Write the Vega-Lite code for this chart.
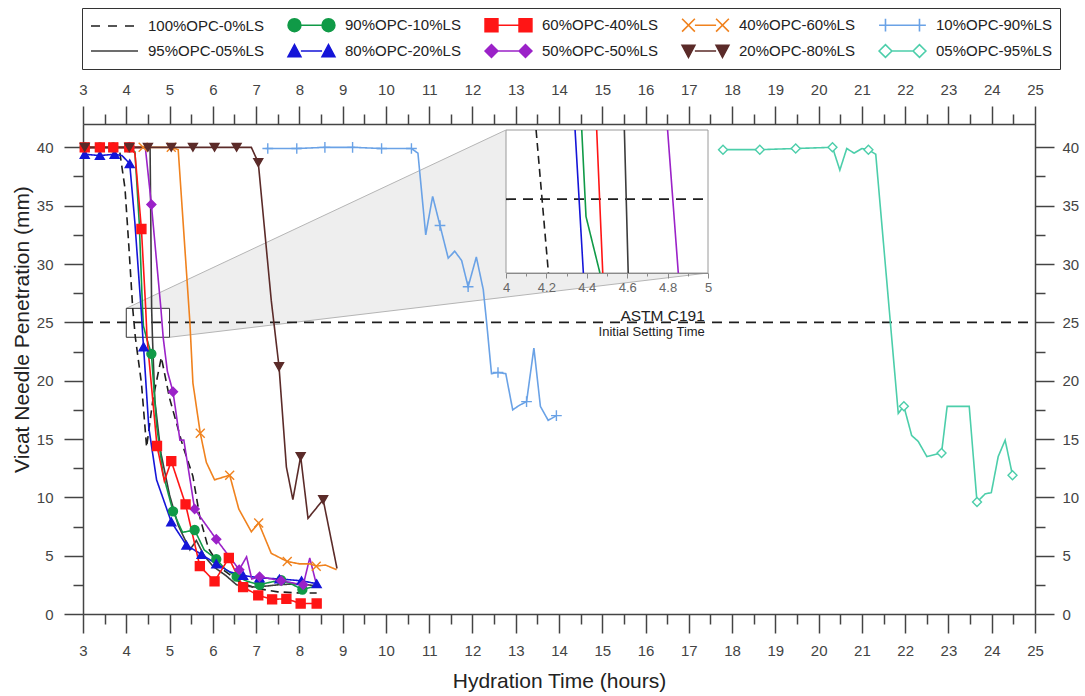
{
  "$schema": "https://vega.github.io/schema/vega-lite/v6.json",
  "width": 952,
  "height": 490,
  "autosize": {"type": "none"},
  "padding": {"left": 83, "top": 124, "right": 50, "bottom": 82},
  "background": "white",
  "config": {
    "view": {"stroke": null},
    "axis": {"grid": false, "domainColor": "#444", "domainWidth": 1.5, "tickColor": "#444", "tickWidth": 1.5, "labelColor": "#444", "labelFont": "Liberation Sans", "labelFontSize": 15, "titleFont": "Liberation Sans", "titleFontWeight": "normal", "titleColor": "#222", "titleFontSize": 21, "labelFlush": false, "labelOverlap": false},
    "text": {"font": "Liberation Sans"}
  },
  "datasets": {
    "cone": [{"x": 4.0, "y": 26.2, "y2": 26.2}, {"x": 5.0, "y": 27.94, "y2": 26.2}, {"x": 5.01, "y": 27.96, "y2": 23.72}, {"x": 12.77, "y": 41.48, "y2": 27.16}, {"x": 17.44, "y": 41.48, "y2": 29.23}],
    "coneEdges": [{"x": 4.0, "y": 26.2, "x2": 12.77, "y2": 41.48}, {"x": 5.0, "y": 23.72, "x2": 17.44, "y2": 29.23}],
    "zoomBox": [{"x": 4.0, "y": 23.72, "x2": 5.0, "y2": 26.2}],
    "refLine": [{"x": 3, "x2": 25, "y": 25}],
    "notes": [{"label": "ASTM C191", "x": 17.37, "y": 25.12, "size": "big"}, {"label": "Initial Setting Time", "x": 17.37, "y": 23.83, "size": "small"}],
    "legendKeys": [{"series": "100%OPC-0%LS"}, {"series": "90%OPC-10%LS"}, {"series": "60%OPC-40%LS"}, {"series": "40%OPC-60%LS"}, {"series": "10%OPC-90%LS"}, {"series": "95%OPC-05%LS"}, {"series": "80%OPC-20%LS"}, {"series": "50%OPC-50%LS"}, {"series": "20%OPC-80%LS"}, {"series": "05%OPC-95%LS"}],
    "curves": [
      {"series": "100%OPC-0%LS", "x": 3.0, "y": 40}, {"series": "100%OPC-0%LS", "x": 3.4, "y": 40}, {"series": "100%OPC-0%LS", "x": 3.7, "y": 40}, {"series": "100%OPC-0%LS", "x": 3.85, "y": 39.6}, {"series": "100%OPC-0%LS", "x": 3.97, "y": 36.5}, {"series": "100%OPC-0%LS", "x": 4.06, "y": 31.5}, {"series": "100%OPC-0%LS", "x": 4.149, "y": 26.2}, {"series": "100%OPC-0%LS", "x": 4.21, "y": 23.7}, {"series": "100%OPC-0%LS", "x": 4.35, "y": 19.8}, {"series": "100%OPC-0%LS", "x": 4.47, "y": 14.3}, {"series": "100%OPC-0%LS", "x": 4.62, "y": 18.5}, {"series": "100%OPC-0%LS", "x": 4.81, "y": 22.0}, {"series": "100%OPC-0%LS", "x": 5.0, "y": 18.5}, {"series": "100%OPC-0%LS", "x": 5.3, "y": 14.5}, {"series": "100%OPC-0%LS", "x": 5.54, "y": 11.8}, {"series": "100%OPC-0%LS", "x": 5.7, "y": 8.3}, {"series": "100%OPC-0%LS", "x": 5.9, "y": 5.6}, {"series": "100%OPC-0%LS", "x": 6.2, "y": 3.9}, {"series": "100%OPC-0%LS", "x": 6.6, "y": 2.8}, {"series": "100%OPC-0%LS", "x": 7.0, "y": 2.2}, {"series": "100%OPC-0%LS", "x": 7.5, "y": 1.9}, {"series": "100%OPC-0%LS", "x": 8.0, "y": 1.8}, {"series": "100%OPC-0%LS", "x": 8.4, "y": 1.8},
      {"series": "95%OPC-05%LS", "x": 3.0, "y": 40}, {"series": "95%OPC-05%LS", "x": 3.4, "y": 40}, {"series": "95%OPC-05%LS", "x": 3.7, "y": 40}, {"series": "95%OPC-05%LS", "x": 4.05, "y": 40}, {"series": "95%OPC-05%LS", "x": 4.55, "y": 40}, {"series": "95%OPC-05%LS", "x": 4.586, "y": 26.2}, {"series": "95%OPC-05%LS", "x": 4.605, "y": 23.7}, {"series": "95%OPC-05%LS", "x": 4.66, "y": 18.3}, {"series": "95%OPC-05%LS", "x": 4.8, "y": 13.8}, {"series": "95%OPC-05%LS", "x": 5.0, "y": 10.2}, {"series": "95%OPC-05%LS", "x": 5.2, "y": 7.6}, {"series": "95%OPC-05%LS", "x": 5.47, "y": 5.5}, {"series": "95%OPC-05%LS", "x": 5.62, "y": 6.3}, {"series": "95%OPC-05%LS", "x": 5.8, "y": 5.0}, {"series": "95%OPC-05%LS", "x": 6.0, "y": 4.1}, {"series": "95%OPC-05%LS", "x": 6.3, "y": 3.3}, {"series": "95%OPC-05%LS", "x": 6.55, "y": 2.5}, {"series": "95%OPC-05%LS", "x": 7.0, "y": 2.3}, {"series": "95%OPC-05%LS", "x": 7.5, "y": 2.5}, {"series": "95%OPC-05%LS", "x": 8.0, "y": 2.6}, {"series": "95%OPC-05%LS", "x": 8.4, "y": 2.4},
      {"series": "90%OPC-10%LS", "x": 3.04, "y": 40}, {"series": "90%OPC-10%LS", "x": 3.39, "y": 40}, {"series": "90%OPC-10%LS", "x": 3.7, "y": 40}, {"series": "90%OPC-10%LS", "x": 4.07, "y": 40}, {"series": "90%OPC-10%LS", "x": 4.2, "y": 39.6}, {"series": "90%OPC-10%LS", "x": 4.3, "y": 33.5}, {"series": "90%OPC-10%LS", "x": 4.375, "y": 26.2}, {"series": "90%OPC-10%LS", "x": 4.396, "y": 24.7}, {"series": "90%OPC-10%LS", "x": 4.465, "y": 23.7}, {"series": "90%OPC-10%LS", "x": 4.58, "y": 22.3}, {"series": "90%OPC-10%LS", "x": 4.7, "y": 16.2}, {"series": "90%OPC-10%LS", "x": 4.85, "y": 12.0}, {"series": "90%OPC-10%LS", "x": 5.08, "y": 8.8}, {"series": "90%OPC-10%LS", "x": 5.3, "y": 7.0}, {"series": "90%OPC-10%LS", "x": 5.58, "y": 7.2}, {"series": "90%OPC-10%LS", "x": 5.8, "y": 5.5}, {"series": "90%OPC-10%LS", "x": 6.08, "y": 4.7}, {"series": "90%OPC-10%LS", "x": 6.3, "y": 3.8}, {"series": "90%OPC-10%LS", "x": 6.55, "y": 3.2}, {"series": "90%OPC-10%LS", "x": 6.8, "y": 2.8}, {"series": "90%OPC-10%LS", "x": 7.08, "y": 2.5}, {"series": "90%OPC-10%LS", "x": 7.3, "y": 2.7}, {"series": "90%OPC-10%LS", "x": 7.58, "y": 2.9}, {"series": "90%OPC-10%LS", "x": 7.8, "y": 2.6}, {"series": "90%OPC-10%LS", "x": 8.07, "y": 2.1}, {"series": "90%OPC-10%LS", "x": 8.4, "y": 2.4},
      {"series": "80%OPC-20%LS", "x": 3.04, "y": 39.4}, {"series": "80%OPC-20%LS", "x": 3.39, "y": 39.3}, {"series": "80%OPC-20%LS", "x": 3.73, "y": 39.4}, {"series": "80%OPC-20%LS", "x": 3.9, "y": 39.3}, {"series": "80%OPC-20%LS", "x": 4.08, "y": 38.6}, {"series": "80%OPC-20%LS", "x": 4.2, "y": 33.5}, {"series": "80%OPC-20%LS", "x": 4.342, "y": 26.2}, {"series": "80%OPC-20%LS", "x": 4.383, "y": 23.7}, {"series": "80%OPC-20%LS", "x": 4.4, "y": 22.9}, {"series": "80%OPC-20%LS", "x": 4.52, "y": 16.0}, {"series": "80%OPC-20%LS", "x": 4.7, "y": 11.5}, {"series": "80%OPC-20%LS", "x": 5.04, "y": 7.9}, {"series": "80%OPC-20%LS", "x": 5.39, "y": 5.9}, {"series": "80%OPC-20%LS", "x": 5.74, "y": 5.1}, {"series": "80%OPC-20%LS", "x": 6.08, "y": 4.3}, {"series": "80%OPC-20%LS", "x": 6.4, "y": 3.6}, {"series": "80%OPC-20%LS", "x": 6.7, "y": 3.3}, {"series": "80%OPC-20%LS", "x": 7.08, "y": 3.1}, {"series": "80%OPC-20%LS", "x": 7.54, "y": 3.0}, {"series": "80%OPC-20%LS", "x": 8.05, "y": 2.85}, {"series": "80%OPC-20%LS", "x": 8.4, "y": 2.6},
      {"series": "60%OPC-40%LS", "x": 3.04, "y": 40}, {"series": "60%OPC-40%LS", "x": 3.39, "y": 40}, {"series": "60%OPC-40%LS", "x": 3.7, "y": 40}, {"series": "60%OPC-40%LS", "x": 4.07, "y": 40}, {"series": "60%OPC-40%LS", "x": 4.2, "y": 39.5}, {"series": "60%OPC-40%LS", "x": 4.35, "y": 33.0}, {"series": "60%OPC-40%LS", "x": 4.449, "y": 26.2}, {"series": "60%OPC-40%LS", "x": 4.479, "y": 23.7}, {"series": "60%OPC-40%LS", "x": 4.71, "y": 14.4}, {"series": "60%OPC-40%LS", "x": 4.88, "y": 11.4}, {"series": "60%OPC-40%LS", "x": 5.04, "y": 13.1}, {"series": "60%OPC-40%LS", "x": 5.37, "y": 9.4}, {"series": "60%OPC-40%LS", "x": 5.7, "y": 4.1}, {"series": "60%OPC-40%LS", "x": 6.04, "y": 2.8}, {"series": "60%OPC-40%LS", "x": 6.37, "y": 4.8}, {"series": "60%OPC-40%LS", "x": 6.7, "y": 2.3}, {"series": "60%OPC-40%LS", "x": 7.05, "y": 1.6}, {"series": "60%OPC-40%LS", "x": 7.37, "y": 1.26}, {"series": "60%OPC-40%LS", "x": 7.7, "y": 1.3}, {"series": "60%OPC-40%LS", "x": 8.03, "y": 0.9}, {"series": "60%OPC-40%LS", "x": 8.4, "y": 0.9},
      {"series": "50%OPC-50%LS", "x": 3.04, "y": 40}, {"series": "50%OPC-50%LS", "x": 3.39, "y": 40}, {"series": "50%OPC-50%LS", "x": 3.7, "y": 40}, {"series": "50%OPC-50%LS", "x": 4.07, "y": 40}, {"series": "50%OPC-50%LS", "x": 4.44, "y": 40}, {"series": "50%OPC-50%LS", "x": 4.58, "y": 35.1}, {"series": "50%OPC-50%LS", "x": 4.8, "y": 26.2}, {"series": "50%OPC-50%LS", "x": 4.853, "y": 23.7}, {"series": "50%OPC-50%LS", "x": 4.95, "y": 20.8}, {"series": "50%OPC-50%LS", "x": 5.08, "y": 19.05}, {"series": "50%OPC-50%LS", "x": 5.24, "y": 14.9}, {"series": "50%OPC-50%LS", "x": 5.33, "y": 14.9}, {"series": "50%OPC-50%LS", "x": 5.58, "y": 9.0}, {"series": "50%OPC-50%LS", "x": 6.08, "y": 6.4}, {"series": "50%OPC-50%LS", "x": 6.61, "y": 3.8}, {"series": "50%OPC-50%LS", "x": 6.78, "y": 4.9}, {"series": "50%OPC-50%LS", "x": 6.9, "y": 3.0}, {"series": "50%OPC-50%LS", "x": 7.08, "y": 3.2}, {"series": "50%OPC-50%LS", "x": 7.58, "y": 2.85}, {"series": "50%OPC-50%LS", "x": 8.09, "y": 2.5}, {"series": "50%OPC-50%LS", "x": 8.24, "y": 4.8}, {"series": "50%OPC-50%LS", "x": 8.39, "y": 2.6},
      {"series": "40%OPC-60%LS", "x": 3.04, "y": 40}, {"series": "40%OPC-60%LS", "x": 3.7, "y": 40}, {"series": "40%OPC-60%LS", "x": 4.39, "y": 40}, {"series": "40%OPC-60%LS", "x": 5.04, "y": 40}, {"series": "40%OPC-60%LS", "x": 5.2, "y": 39.8}, {"series": "40%OPC-60%LS", "x": 5.47, "y": 25.0}, {"series": "40%OPC-60%LS", "x": 5.54, "y": 19.8}, {"series": "40%OPC-60%LS", "x": 5.71, "y": 15.5}, {"series": "40%OPC-60%LS", "x": 5.85, "y": 13.0}, {"series": "40%OPC-60%LS", "x": 6.04, "y": 11.5}, {"series": "40%OPC-60%LS", "x": 6.39, "y": 11.9}, {"series": "40%OPC-60%LS", "x": 6.6, "y": 9.0}, {"series": "40%OPC-60%LS", "x": 6.89, "y": 7.05}, {"series": "40%OPC-60%LS", "x": 7.06, "y": 7.8}, {"series": "40%OPC-60%LS", "x": 7.35, "y": 5.2}, {"series": "40%OPC-60%LS", "x": 7.72, "y": 4.5}, {"series": "40%OPC-60%LS", "x": 8.0, "y": 4.3}, {"series": "40%OPC-60%LS", "x": 8.25, "y": 4.3}, {"series": "40%OPC-60%LS", "x": 8.39, "y": 4.1}, {"series": "40%OPC-60%LS", "x": 8.6, "y": 4.2}, {"series": "40%OPC-60%LS", "x": 8.86, "y": 3.8},
      {"series": "20%OPC-80%LS", "x": 3.04, "y": 40}, {"series": "20%OPC-80%LS", "x": 4.07, "y": 40}, {"series": "20%OPC-80%LS", "x": 4.5, "y": 40}, {"series": "20%OPC-80%LS", "x": 5.04, "y": 40}, {"series": "20%OPC-80%LS", "x": 5.54, "y": 40}, {"series": "20%OPC-80%LS", "x": 6.04, "y": 40}, {"series": "20%OPC-80%LS", "x": 6.55, "y": 40}, {"series": "20%OPC-80%LS", "x": 6.89, "y": 40}, {"series": "20%OPC-80%LS", "x": 7.05, "y": 38.7}, {"series": "20%OPC-80%LS", "x": 7.35, "y": 26.9}, {"series": "20%OPC-80%LS", "x": 7.53, "y": 21.2}, {"series": "20%OPC-80%LS", "x": 7.7, "y": 12.6}, {"series": "20%OPC-80%LS", "x": 7.85, "y": 9.8}, {"series": "20%OPC-80%LS", "x": 8.03, "y": 13.5}, {"series": "20%OPC-80%LS", "x": 8.2, "y": 8.2}, {"series": "20%OPC-80%LS", "x": 8.55, "y": 9.8}, {"series": "20%OPC-80%LS", "x": 8.87, "y": 3.9},
      {"series": "10%OPC-90%LS", "x": 7.22, "y": 39.9}, {"series": "10%OPC-90%LS", "x": 7.27, "y": 39.9}, {"series": "10%OPC-90%LS", "x": 7.94, "y": 39.9}, {"series": "10%OPC-90%LS", "x": 8.59, "y": 40}, {"series": "10%OPC-90%LS", "x": 9.23, "y": 40}, {"series": "10%OPC-90%LS", "x": 9.9, "y": 39.9}, {"series": "10%OPC-90%LS", "x": 10.59, "y": 39.9}, {"series": "10%OPC-90%LS", "x": 10.74, "y": 39.5}, {"series": "10%OPC-90%LS", "x": 10.92, "y": 32.5}, {"series": "10%OPC-90%LS", "x": 11.08, "y": 35.8}, {"series": "10%OPC-90%LS", "x": 11.25, "y": 33.3}, {"series": "10%OPC-90%LS", "x": 11.44, "y": 30.5}, {"series": "10%OPC-90%LS", "x": 11.59, "y": 31.1}, {"series": "10%OPC-90%LS", "x": 11.75, "y": 30.3}, {"series": "10%OPC-90%LS", "x": 11.9, "y": 28.05}, {"series": "10%OPC-90%LS", "x": 12.09, "y": 30.6}, {"series": "10%OPC-90%LS", "x": 12.25, "y": 27.8}, {"series": "10%OPC-90%LS", "x": 12.33, "y": 24.9}, {"series": "10%OPC-90%LS", "x": 12.44, "y": 20.6}, {"series": "10%OPC-90%LS", "x": 12.59, "y": 20.7}, {"series": "10%OPC-90%LS", "x": 12.77, "y": 20.6}, {"series": "10%OPC-90%LS", "x": 12.93, "y": 17.5}, {"series": "10%OPC-90%LS", "x": 13.09, "y": 17.9}, {"series": "10%OPC-90%LS", "x": 13.25, "y": 18.2}, {"series": "10%OPC-90%LS", "x": 13.42, "y": 22.8}, {"series": "10%OPC-90%LS", "x": 13.57, "y": 17.8}, {"series": "10%OPC-90%LS", "x": 13.75, "y": 16.6}, {"series": "10%OPC-90%LS", "x": 13.94, "y": 17.0},
      {"series": "05%OPC-95%LS", "x": 17.79, "y": 39.8}, {"series": "05%OPC-95%LS", "x": 18.64, "y": 39.8}, {"series": "05%OPC-95%LS", "x": 19.47, "y": 39.9}, {"series": "05%OPC-95%LS", "x": 20.32, "y": 40.0}, {"series": "05%OPC-95%LS", "x": 20.49, "y": 38.05}, {"series": "05%OPC-95%LS", "x": 20.65, "y": 39.9}, {"series": "05%OPC-95%LS", "x": 20.82, "y": 39.5}, {"series": "05%OPC-95%LS", "x": 21.0, "y": 39.9}, {"series": "05%OPC-95%LS", "x": 21.15, "y": 39.8}, {"series": "05%OPC-95%LS", "x": 21.32, "y": 39.4}, {"series": "05%OPC-95%LS", "x": 21.84, "y": 17.2}, {"series": "05%OPC-95%LS", "x": 21.97, "y": 17.8}, {"series": "05%OPC-95%LS", "x": 22.15, "y": 15.3}, {"series": "05%OPC-95%LS", "x": 22.3, "y": 14.8}, {"series": "05%OPC-95%LS", "x": 22.5, "y": 13.5}, {"series": "05%OPC-95%LS", "x": 22.84, "y": 13.8}, {"series": "05%OPC-95%LS", "x": 22.97, "y": 17.8}, {"series": "05%OPC-95%LS", "x": 23.48, "y": 17.8}, {"series": "05%OPC-95%LS", "x": 23.66, "y": 9.6}, {"series": "05%OPC-95%LS", "x": 23.85, "y": 10.3}, {"series": "05%OPC-95%LS", "x": 23.99, "y": 10.4}, {"series": "05%OPC-95%LS", "x": 24.15, "y": 13.5}, {"series": "05%OPC-95%LS", "x": 24.31, "y": 14.9}, {"series": "05%OPC-95%LS", "x": 24.48, "y": 11.9}
    ],
    "markers": [
      {"series": "10%OPC-90%LS", "x": 7.27, "y": 39.9}, {"series": "10%OPC-90%LS", "x": 7.94, "y": 39.9}, {"series": "10%OPC-90%LS", "x": 8.59, "y": 40}, {"series": "10%OPC-90%LS", "x": 9.23, "y": 40}, {"series": "10%OPC-90%LS", "x": 9.9, "y": 39.9}, {"series": "10%OPC-90%LS", "x": 10.59, "y": 39.9}, {"series": "10%OPC-90%LS", "x": 11.25, "y": 33.3}, {"series": "10%OPC-90%LS", "x": 11.9, "y": 28.05}, {"series": "10%OPC-90%LS", "x": 12.59, "y": 20.7}, {"series": "10%OPC-90%LS", "x": 13.25, "y": 18.2}, {"series": "10%OPC-90%LS", "x": 13.94, "y": 17.0},
      {"series": "05%OPC-95%LS", "x": 17.79, "y": 39.8}, {"series": "05%OPC-95%LS", "x": 18.64, "y": 39.8}, {"series": "05%OPC-95%LS", "x": 19.47, "y": 39.9}, {"series": "05%OPC-95%LS", "x": 20.32, "y": 40.0}, {"series": "05%OPC-95%LS", "x": 21.15, "y": 39.8}, {"series": "05%OPC-95%LS", "x": 21.97, "y": 17.8}, {"series": "05%OPC-95%LS", "x": 22.84, "y": 13.8}, {"series": "05%OPC-95%LS", "x": 23.66, "y": 9.6}, {"series": "05%OPC-95%LS", "x": 24.48, "y": 11.9},
      {"series": "90%OPC-10%LS", "x": 3.04, "y": 40}, {"series": "90%OPC-10%LS", "x": 3.39, "y": 40}, {"series": "90%OPC-10%LS", "x": 3.7, "y": 40}, {"series": "90%OPC-10%LS", "x": 4.07, "y": 40}, {"series": "90%OPC-10%LS", "x": 4.58, "y": 22.3}, {"series": "90%OPC-10%LS", "x": 5.08, "y": 8.8}, {"series": "90%OPC-10%LS", "x": 5.58, "y": 7.2}, {"series": "90%OPC-10%LS", "x": 6.08, "y": 4.7}, {"series": "90%OPC-10%LS", "x": 6.55, "y": 3.2}, {"series": "90%OPC-10%LS", "x": 7.08, "y": 2.5}, {"series": "90%OPC-10%LS", "x": 7.58, "y": 2.9}, {"series": "90%OPC-10%LS", "x": 8.07, "y": 2.1},
      {"series": "80%OPC-20%LS", "x": 3.04, "y": 39.4}, {"series": "80%OPC-20%LS", "x": 3.39, "y": 39.3}, {"series": "80%OPC-20%LS", "x": 3.73, "y": 39.4}, {"series": "80%OPC-20%LS", "x": 4.08, "y": 38.6}, {"series": "80%OPC-20%LS", "x": 4.4, "y": 22.9}, {"series": "80%OPC-20%LS", "x": 5.04, "y": 7.9}, {"series": "80%OPC-20%LS", "x": 5.39, "y": 5.9}, {"series": "80%OPC-20%LS", "x": 5.74, "y": 5.1}, {"series": "80%OPC-20%LS", "x": 6.08, "y": 4.3}, {"series": "80%OPC-20%LS", "x": 6.7, "y": 3.3}, {"series": "80%OPC-20%LS", "x": 7.08, "y": 3.1}, {"series": "80%OPC-20%LS", "x": 7.54, "y": 3.0}, {"series": "80%OPC-20%LS", "x": 8.05, "y": 2.85}, {"series": "80%OPC-20%LS", "x": 8.4, "y": 2.6},
      {"series": "50%OPC-50%LS", "x": 4.07, "y": 40}, {"series": "50%OPC-50%LS", "x": 4.58, "y": 35.1}, {"series": "50%OPC-50%LS", "x": 5.08, "y": 19.05}, {"series": "50%OPC-50%LS", "x": 5.58, "y": 9.0}, {"series": "50%OPC-50%LS", "x": 6.08, "y": 6.4}, {"series": "50%OPC-50%LS", "x": 6.61, "y": 3.8}, {"series": "50%OPC-50%LS", "x": 7.08, "y": 3.2}, {"series": "50%OPC-50%LS", "x": 7.58, "y": 2.85}, {"series": "50%OPC-50%LS", "x": 8.09, "y": 2.5},
      {"series": "40%OPC-60%LS", "x": 3.04, "y": 40}, {"series": "40%OPC-60%LS", "x": 3.7, "y": 40}, {"series": "40%OPC-60%LS", "x": 4.39, "y": 40}, {"series": "40%OPC-60%LS", "x": 5.04, "y": 40}, {"series": "40%OPC-60%LS", "x": 5.71, "y": 15.5}, {"series": "40%OPC-60%LS", "x": 6.39, "y": 11.9}, {"series": "40%OPC-60%LS", "x": 7.06, "y": 7.8}, {"series": "40%OPC-60%LS", "x": 7.72, "y": 4.5}, {"series": "40%OPC-60%LS", "x": 8.39, "y": 4.1},
      {"series": "60%OPC-40%LS", "x": 3.04, "y": 40}, {"series": "60%OPC-40%LS", "x": 3.39, "y": 40}, {"series": "60%OPC-40%LS", "x": 3.7, "y": 40}, {"series": "60%OPC-40%LS", "x": 4.07, "y": 40}, {"series": "60%OPC-40%LS", "x": 4.35, "y": 33.0}, {"series": "60%OPC-40%LS", "x": 4.71, "y": 14.4}, {"series": "60%OPC-40%LS", "x": 5.04, "y": 13.1}, {"series": "60%OPC-40%LS", "x": 5.37, "y": 9.4}, {"series": "60%OPC-40%LS", "x": 5.7, "y": 4.1}, {"series": "60%OPC-40%LS", "x": 6.04, "y": 2.8}, {"series": "60%OPC-40%LS", "x": 6.37, "y": 4.8}, {"series": "60%OPC-40%LS", "x": 6.7, "y": 2.3}, {"series": "60%OPC-40%LS", "x": 7.05, "y": 1.6}, {"series": "60%OPC-40%LS", "x": 7.37, "y": 1.26}, {"series": "60%OPC-40%LS", "x": 7.7, "y": 1.3}, {"series": "60%OPC-40%LS", "x": 8.03, "y": 0.9}, {"series": "60%OPC-40%LS", "x": 8.4, "y": 0.9},
      {"series": "20%OPC-80%LS", "x": 3.04, "y": 40}, {"series": "20%OPC-80%LS", "x": 4.07, "y": 40}, {"series": "20%OPC-80%LS", "x": 4.5, "y": 40}, {"series": "20%OPC-80%LS", "x": 5.04, "y": 40}, {"series": "20%OPC-80%LS", "x": 5.54, "y": 40}, {"series": "20%OPC-80%LS", "x": 6.04, "y": 40}, {"series": "20%OPC-80%LS", "x": 6.55, "y": 40}, {"series": "20%OPC-80%LS", "x": 7.05, "y": 38.7}, {"series": "20%OPC-80%LS", "x": 7.53, "y": 21.2}, {"series": "20%OPC-80%LS", "x": 8.03, "y": 13.5}, {"series": "20%OPC-80%LS", "x": 8.55, "y": 9.8}
    ],
    "insetFrame": [{"x": 4, "x2": 5, "y": 23.72, "y2": 26.2}],
    "insetRef": [{"x": 4, "x2": 5, "y": 25}],
    "insetCurves": [
      {"series": "100%OPC-0%LS", "x": 4.149, "y": 26.2}, {"series": "100%OPC-0%LS", "x": 4.21, "y": 23.72},
      {"series": "80%OPC-20%LS", "x": 4.342, "y": 26.2}, {"series": "80%OPC-20%LS", "x": 4.383, "y": 23.72},
      {"series": "90%OPC-10%LS", "x": 4.375, "y": 26.2}, {"series": "90%OPC-10%LS", "x": 4.396, "y": 24.7}, {"series": "90%OPC-10%LS", "x": 4.465, "y": 23.72},
      {"series": "60%OPC-40%LS", "x": 4.449, "y": 26.2}, {"series": "60%OPC-40%LS", "x": 4.479, "y": 23.72},
      {"series": "95%OPC-05%LS", "x": 4.586, "y": 26.2}, {"series": "95%OPC-05%LS", "x": 4.605, "y": 23.72},
      {"series": "50%OPC-50%LS", "x": 4.8, "y": 26.2}, {"series": "50%OPC-50%LS", "x": 4.853, "y": 23.72}
    ]
  },
  "layer": [
    {
      "encoding": {
        "x": {"field": "x", "type": "quantitative", "scale": {"domain": [3, 25], "nice": false, "zero": false}, "axis": null},
        "y": {"field": "y", "type": "quantitative", "scale": {"domain": [0, 42], "nice": false, "zero": false}, "axis": null}
      },
      "layer": [
        {"data": {"name": "cone"}, "mark": {"type": "area", "fill": "#eeeeee", "opacity": 1}, "encoding": {"y2": {"field": "y2"}}},
        {"data": {"name": "coneEdges"}, "mark": {"type": "rule", "color": "#b5b5b5", "strokeWidth": 1}, "encoding": {"x2": {"field": "x2"}, "y2": {"field": "y2"}}},
        {"data": {"name": "refLine"}, "mark": {"type": "rule", "color": "#1e1e1e", "strokeWidth": 1.8, "strokeDash": [10, 7]}, "encoding": {"x2": {"field": "x2"}}},
        {"data": {"name": "zoomBox"}, "mark": {"type": "rect", "fill": "transparent", "stroke": "#333", "strokeWidth": 1}, "encoding": {"x2": {"field": "x2"}, "y2": {"field": "y2"}}},
        {"data": {"name": "curves"}, "mark": {"type": "line", "strokeWidth": 1.6},
         "encoding": {
           "stroke": {"field": "series", "type": "nominal", "scale": {"domain": ["100%OPC-0%LS", "90%OPC-10%LS", "60%OPC-40%LS", "40%OPC-60%LS", "10%OPC-90%LS", "95%OPC-05%LS", "80%OPC-20%LS", "50%OPC-50%LS", "20%OPC-80%LS", "05%OPC-95%LS"], "range": ["#1e1e1e", "#109a47", "#ff1515", "#f0821e", "#6aa2e6", "#3c3c3c", "#1515d8", "#9b22c8", "#5b2b29", "#4cceaa"]}, "legend": null},
           "strokeDash": {"field": "series", "type": "nominal", "scale": {"domain": ["100%OPC-0%LS", "90%OPC-10%LS", "60%OPC-40%LS", "40%OPC-60%LS", "10%OPC-90%LS", "95%OPC-05%LS", "80%OPC-20%LS", "50%OPC-50%LS", "20%OPC-80%LS", "05%OPC-95%LS"], "range": [[8, 5], [1, 0], [1, 0], [1, 0], [1, 0], [1, 0], [1, 0], [1, 0], [1, 0], [1, 0]]}, "legend": null}
         }},
        {"data": {"name": "markers"}, "mark": {"type": "point", "size": 80, "strokeWidth": 1.4, "opacity": 1},
         "encoding": {
           "shape": {"field": "series", "type": "nominal", "scale": {"domain": ["100%OPC-0%LS", "90%OPC-10%LS", "60%OPC-40%LS", "40%OPC-60%LS", "10%OPC-90%LS", "95%OPC-05%LS", "80%OPC-20%LS", "50%OPC-50%LS", "20%OPC-80%LS", "05%OPC-95%LS"], "range": ["circle", "circle", "square", "M-1,-1L1,1M-1,1L1,-1", "M-1.2,0H1.2M0,-1.2V1.2", "circle", "triangle-up", "diamond", "triangle-down", "diamond"]}, "legend": null},
           "fill": {"field": "series", "type": "nominal", "scale": {"domain": ["100%OPC-0%LS", "90%OPC-10%LS", "60%OPC-40%LS", "40%OPC-60%LS", "10%OPC-90%LS", "95%OPC-05%LS", "80%OPC-20%LS", "50%OPC-50%LS", "20%OPC-80%LS", "05%OPC-95%LS"], "range": ["transparent", "#109a47", "#ff1515", "transparent", "transparent", "transparent", "#1515d8", "#9b22c8", "#5b2b29", "white"]}, "legend": null},
           "stroke": {"field": "series", "type": "nominal", "scale": {"domain": ["100%OPC-0%LS", "90%OPC-10%LS", "60%OPC-40%LS", "40%OPC-60%LS", "10%OPC-90%LS", "95%OPC-05%LS", "80%OPC-20%LS", "50%OPC-50%LS", "20%OPC-80%LS", "05%OPC-95%LS"], "range": ["#1e1e1e", "#109a47", "#ff1515", "#f0821e", "#6aa2e6", "#3c3c3c", "#1515d8", "#9b22c8", "#5b2b29", "#4cceaa"]}, "legend": null}
         }},
        {"data": {"name": "notes"}, "transform": [{"filter": "datum.size == 'big'"}], "mark": {"type": "text", "align": "right", "baseline": "alphabetic", "fontSize": 15.5, "color": "#222"}, "encoding": {"text": {"field": "label"}}},
        {"data": {"name": "notes"}, "transform": [{"filter": "datum.size == 'small'"}], "mark": {"type": "text", "align": "right", "baseline": "alphabetic", "fontSize": 13, "color": "#222"}, "encoding": {"text": {"field": "label"}}},
        {"data": {"name": "legendKeys"}, "mark": {"type": "point", "size": 256, "strokeWidth": 1.6, "opacity": 1, "clip": true},
         "encoding": {
           "x": {"datum": -5, "axis": null},
           "y": {"datum": -5, "axis": null},
           "shape": {"field": "series", "type": "nominal", "scale": {"domain": ["100%OPC-0%LS", "90%OPC-10%LS", "60%OPC-40%LS", "40%OPC-60%LS", "10%OPC-90%LS", "95%OPC-05%LS", "80%OPC-20%LS", "50%OPC-50%LS", "20%OPC-80%LS", "05%OPC-95%LS"], "range": [
             "M-1,0H0.125M1.125,0H2.25M3.25,0H4.375",
             "M0.61,0H3.26M-0.99,0A0.8,0.8 0 1,0 0.61,0A0.8,0.8 0 1,0 -0.99,0ZM3.26,0A0.8,0.8 0 1,0 4.86,0A0.8,0.8 0 1,0 3.26,0Z",
             "M0.61,0H3.26M-0.99,-0.8H0.61V0.8H-0.99ZM3.26,-0.8H4.86V0.8H3.26Z",
             "M0.61,0H3.26M-0.99,-0.8L0.61,0.8M-0.99,0.8L0.61,-0.8M3.26,-0.8L4.86,0.8M3.26,0.8L4.86,-0.8",
             "M-0.99,0H4.86M-0.19,-0.8V0.8M4.06,-0.8V0.8",
             "M-1,0H4.875",
             "M0.61,0H3.26M-0.99,0.7L-0.19,-0.8L0.61,0.7ZM3.26,0.7L4.06,-0.8L4.86,0.7Z",
             "M0.61,0H3.26M-0.99,0L-0.19,-0.8L0.61,0L-0.19,0.8ZM3.26,0L4.06,-0.8L4.86,0L4.06,0.8Z",
             "M0.61,0H3.26M-0.99,-0.7L0.61,-0.7L-0.19,0.8ZM3.26,-0.7L4.86,-0.7L4.06,0.8Z",
             "M0.61,0H3.26M-0.99,0L-0.19,-0.8L0.61,0L-0.19,0.8ZM3.26,0L4.06,-0.8L4.86,0L4.06,0.8Z"
           ]},
             "legend": {"orient": "none", "direction": "horizontal", "legendX": -1, "legendY": -116, "columns": 5, "title": null, "labelFont": "Liberation Sans", "labelFontSize": 15, "labelColor": "#222", "labelOffset": 40, "symbolSize": 256, "symbolStrokeWidth": 1.6, "columnPadding": 20, "rowPadding": 6, "padding": 8, "strokeColor": "#333", "fillColor": "white", "labelLimit": 300}},
           "fill": {"field": "series", "type": "nominal", "scale": {"domain": ["100%OPC-0%LS", "90%OPC-10%LS", "60%OPC-40%LS", "40%OPC-60%LS", "10%OPC-90%LS", "95%OPC-05%LS", "80%OPC-20%LS", "50%OPC-50%LS", "20%OPC-80%LS", "05%OPC-95%LS"], "range": ["transparent", "#109a47", "#ff1515", "transparent", "transparent", "transparent", "#1515d8", "#9b22c8", "#5b2b29", "white"]},
             "legend": {"orient": "none", "direction": "horizontal", "legendX": -1, "legendY": -116, "columns": 5, "title": null, "labelFont": "Liberation Sans", "labelFontSize": 15, "labelColor": "#222", "labelOffset": 40, "symbolSize": 256, "symbolStrokeWidth": 1.6, "columnPadding": 20, "rowPadding": 6, "padding": 8, "strokeColor": "#333", "fillColor": "white", "labelLimit": 300}},
           "stroke": {"field": "series", "type": "nominal", "scale": {"domain": ["100%OPC-0%LS", "90%OPC-10%LS", "60%OPC-40%LS", "40%OPC-60%LS", "10%OPC-90%LS", "95%OPC-05%LS", "80%OPC-20%LS", "50%OPC-50%LS", "20%OPC-80%LS", "05%OPC-95%LS"], "range": ["#1e1e1e", "#109a47", "#ff1515", "#f0821e", "#6aa2e6", "#3c3c3c", "#1515d8", "#9b22c8", "#5b2b29", "#4cceaa"]},
             "legend": {"orient": "none", "direction": "horizontal", "legendX": -1, "legendY": -116, "columns": 5, "title": null, "labelFont": "Liberation Sans", "labelFontSize": 15, "labelColor": "#222", "labelOffset": 40, "symbolSize": 256, "symbolStrokeWidth": 1.6, "columnPadding": 20, "rowPadding": 6, "padding": 8, "strokeColor": "#333", "fillColor": "white", "labelLimit": 300}}
         }},
        {"data": {"values": []}, "mark": "point",
         "encoding": {
           "x": {"field": "x", "type": "quantitative", "scale": {"domain": [3, 25], "nice": false, "zero": false}, "axis": {"orient": "bottom", "values": [3, 4, 5, 6, 7, 8, 9, 10, 11, 12, 13, 14, 15, 16, 17, 18, 19, 20, 21, 22, 23, 24, 25], "format": "~g", "tickSize": 19, "labelPadding": 10, "title": "Hydration Time (hours)", "titlePadding": 12}},
           "y": {"field": "y", "type": "quantitative", "scale": {"domain": [0, 42], "nice": false, "zero": false}, "axis": {"orient": "left", "values": [0, 5, 10, 15, 20, 25, 30, 35, 40], "format": "~g", "tickSize": 19, "labelPadding": 11, "title": "Vicat Needle Penetration (mm)", "titleX": -61, "titleY": 205, "titleBaseline": "middle"}}
         }},
        {"data": {"values": []}, "mark": "point",
         "encoding": {
           "x": {"field": "x", "type": "quantitative", "scale": {"domain": [3, 25], "nice": false, "zero": false}, "axis": {"orient": "bottom", "values": [3.5, 4.5, 5.5, 6.5, 7.5, 8.5, 9.5, 10.5, 11.5, 12.5, 13.5, 14.5, 15.5, 16.5, 17.5, 18.5, 19.5, 20.5, 21.5, 22.5, 23.5, 24.5], "tickSize": 10, "labels": false, "domain": false, "title": null}},
           "y": {"field": "y", "type": "quantitative", "scale": {"domain": [0, 42], "nice": false, "zero": false}, "axis": {"orient": "left", "values": [2.5, 7.5, 12.5, 17.5, 22.5, 27.5, 32.5, 37.5], "tickSize": 10, "labels": false, "domain": false, "title": null}}
         }},
        {"data": {"values": []}, "mark": "point",
         "encoding": {
           "x": {"field": "x", "type": "quantitative", "scale": {"domain": [3, 25], "nice": false, "zero": false}, "axis": {"orient": "top", "values": [3, 4, 5, 6, 7, 8, 9, 10, 11, 12, 13, 14, 15, 16, 17, 18, 19, 20, 21, 22, 23, 24, 25], "format": "~g", "tickSize": 18, "labelPadding": 9, "title": null}},
           "y": {"field": "y", "type": "quantitative", "scale": {"domain": [0, 42], "nice": false, "zero": false}, "axis": {"orient": "right", "values": [0, 5, 10, 15, 20, 25, 30, 35, 40], "format": "~g", "tickSize": 19, "labelPadding": 8, "title": null}}
         }},
        {"data": {"values": []}, "mark": "point",
         "encoding": {
           "x": {"field": "x", "type": "quantitative", "scale": {"domain": [3, 25], "nice": false, "zero": false}, "axis": {"orient": "top", "values": [3.5, 4.5, 5.5, 6.5, 7.5, 8.5, 9.5, 10.5, 11.5, 12.5, 13.5, 14.5, 15.5, 16.5, 17.5, 18.5, 19.5, 20.5, 21.5, 22.5, 23.5, 24.5], "tickSize": 10, "labels": false, "domain": false, "title": null}},
           "y": {"field": "y", "type": "quantitative", "scale": {"domain": [0, 42], "nice": false, "zero": false}, "axis": {"orient": "right", "values": [2.5, 7.5, 12.5, 17.5, 22.5, 27.5, 32.5, 37.5], "tickSize": 10, "labels": false, "domain": false, "title": null}}
         }}
      ],
      "resolve": {"scale": {"shape": "independent", "fill": "independent", "stroke": "independent", "strokeDash": "independent"}, "axis": {"x": "independent", "y": "independent"}}
    },
    {
      "encoding": {
        "x": {"field": "x", "type": "quantitative", "scale": {"domain": [4, 5], "range": [423, 625], "nice": false, "zero": false}, "axis": null},
        "y": {"field": "y", "type": "quantitative", "scale": {"domain": [23.72, 26.2], "range": [149, 6], "nice": false, "zero": false}, "axis": null}
      },
      "layer": [
        {"data": {"name": "insetFrame"}, "mark": {"type": "rect", "fill": "white", "stroke": "#9a9a9a", "strokeWidth": 1}, "encoding": {"x2": {"field": "x2"}, "y2": {"field": "y2"}}},
        {"data": {"name": "insetRef"}, "mark": {"type": "rule", "color": "#1e1e1e", "strokeWidth": 1.8, "strokeDash": [10, 7]}, "encoding": {"x2": {"field": "x2"}}},
        {"data": {"name": "insetCurves"}, "mark": {"type": "line", "strokeWidth": 1.6},
         "encoding": {
           "stroke": {"field": "series", "type": "nominal", "scale": {"domain": ["100%OPC-0%LS", "90%OPC-10%LS", "60%OPC-40%LS", "40%OPC-60%LS", "10%OPC-90%LS", "95%OPC-05%LS", "80%OPC-20%LS", "50%OPC-50%LS", "20%OPC-80%LS", "05%OPC-95%LS"], "range": ["#1e1e1e", "#109a47", "#ff1515", "#f0821e", "#6aa2e6", "#3c3c3c", "#1515d8", "#9b22c8", "#5b2b29", "#4cceaa"]}, "legend": null},
           "strokeDash": {"field": "series", "type": "nominal", "scale": {"domain": ["100%OPC-0%LS", "90%OPC-10%LS", "60%OPC-40%LS", "40%OPC-60%LS", "10%OPC-90%LS", "95%OPC-05%LS", "80%OPC-20%LS", "50%OPC-50%LS", "20%OPC-80%LS", "05%OPC-95%LS"], "range": [[8, 5], [1, 0], [1, 0], [1, 0], [1, 0], [1, 0], [1, 0], [1, 0], [1, 0], [1, 0]]}, "legend": null}
         }},
        {"data": {"values": []}, "mark": "point",
         "encoding": {
           "x": {"field": "x", "type": "quantitative", "scale": {"domain": [4, 5], "range": [423, 625], "nice": false, "zero": false}, "axis": {"orient": "bottom", "offset": -341, "values": [4, 4.2, 4.4, 4.6, 4.8, 5], "format": "~g", "tickSize": 5, "tickWidth": 1, "tickColor": "#8a8a8a", "domainColor": "#8a8a8a", "domainWidth": 1, "labelColor": "#666", "labelFontSize": 13, "labelPadding": 3, "title": null, "zindex": 1}}
         }},
        {"data": {"values": []}, "mark": "point",
         "encoding": {
           "x": {"field": "x", "type": "quantitative", "scale": {"domain": [4, 5], "range": [423, 625], "nice": false, "zero": false}, "axis": {"orient": "bottom", "offset": -341, "values": [4.1, 4.3, 4.5, 4.7, 4.9], "tickSize": 3, "tickWidth": 1, "tickColor": "#8a8a8a", "labels": false, "domain": false, "title": null, "zindex": 1}}
         }}
      ],
      "resolve": {"axis": {"x": "independent", "y": "independent"}}
    }
  ],
  "resolve": {"scale": {"x": "independent", "y": "independent"}}
}
